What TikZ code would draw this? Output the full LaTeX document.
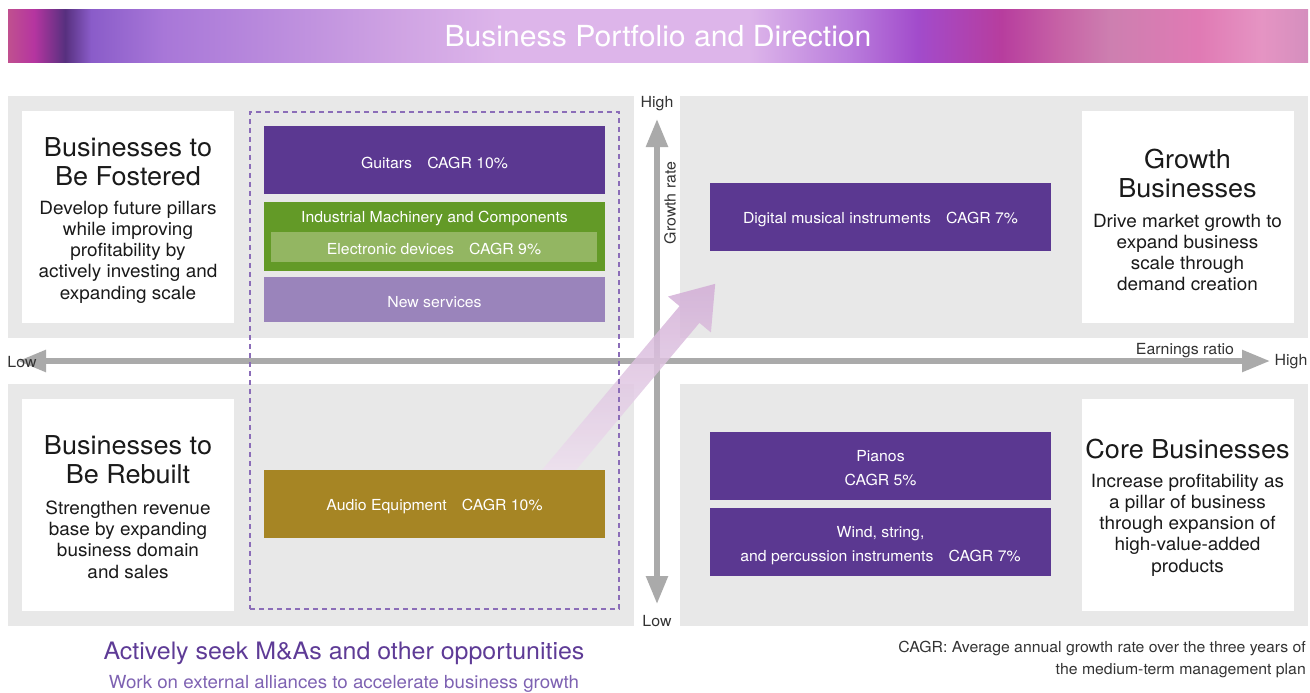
\documentclass[tikz,border=0pt]{standalone}
\usepackage{fontspec}
\setmainfont{TeX Gyre Heros}[FakeStretch=1.04]
\usetikzlibrary{arrows.meta}

\definecolor{quadgray}{HTML}{E8E8E8}
\definecolor{bizpurple}{HTML}{5B3891}
\definecolor{indgreen}{HTML}{639A27}
\definecolor{lightgreen}{HTML}{93B662}
\definecolor{svcpurple}{HTML}{9A84BB}
\definecolor{audiogold}{HTML}{A68524}
\definecolor{axisgray}{HTML}{AAAAAA}
\definecolor{dashpurple}{HTML}{8B6DB8}
\definecolor{textpurple}{HTML}{5E3B96}
\definecolor{subpurple}{HTML}{7E62B2}
\definecolor{inkdark}{HTML}{1A1A1A}
\definecolor{inkgray}{HTML}{333333}
\definecolor{arrowpink}{HTML}{D2ADD6}
\definecolor{arrowfade}{HTML}{F2E8F2}

\definecolor{hA}{HTML}{C0508F}
\definecolor{hB}{HTML}{B535A0}
\definecolor{hC}{HTML}{57307F}
\definecolor{hD}{HTML}{8A5CC9}
\definecolor{hE}{HTML}{A877D8}
\definecolor{hF}{HTML}{CFA3E3}
\definecolor{hG}{HTML}{DDB5EA}
\definecolor{hH}{HTML}{B97CDC}
\definecolor{hI}{HTML}{A24BCB}
\definecolor{hJ}{HTML}{B73D9E}
\definecolor{hK}{HTML}{C763A6}
\definecolor{hL}{HTML}{CD7FB0}
\definecolor{hM}{HTML}{E07AB4}
\definecolor{hN}{HTML}{E594C3}
\definecolor{hO}{HTML}{D58FBE}

\pgfdeclarehorizontalshading{headershade}{100bp}{color(0bp)=(hA); color(25bp)=(hA);
  color(26bp)=(hB); color(27.2bp)=(hC); color(28.2bp)=(hD); color(31bp)=(hE);
  color(40bp)=(hF); color(44bp)=(hG); color(53.5bp)=(hG); color(57.4bp)=(hH);
  color(60bp)=(hI); color(63.2bp)=(hJ); color(65.5bp)=(hK); color(67.4bp)=(hL);
  color(70.8bp)=(hM); color(73.2bp)=(hN); color(75bp)=(hO); color(100bp)=(hO)}

\begin{document}
\begin{tikzpicture}[x=1pt,y=-1pt,
    quad/.style={fill=quadgray},
    whitebox/.style={fill=white, minimum width=212pt, minimum height=212pt, inner sep=0},
    title/.style={font=\fontsize{26}{29}\selectfont, align=center, text=inkdark, inner sep=0},
    body/.style={font=\fontsize{18.2}{21.3}\selectfont, align=center, text=inkdark, inner sep=0},
    bizbox/.style={fill=bizpurple, text=white, minimum width=341pt, minimum height=68pt,
      inner sep=0, align=center, font=\fontsize{15.2}{24}\selectfont},
    bizlabel/.style={yshift=-2.5pt},
    axisline/.style={draw=axisgray, line width=5.5pt,
      arrows={Triangle[length=28pt,width=21pt]-Triangle[length=28pt,width=21pt]}},
    axislabel/.style={font=\fontsize{15.3}{17}\selectfont, text=inkgray, inner sep=0}
  ]
  \useasboundingbox (0,0) rectangle (1310,693);

  \node (header) [shade, shading=headershade, minimum width=1300pt, minimum height=53pt,
    inner sep=0, text=white, font=\fontsize{29}{32}\selectfont] at (658,36.5)
    {Business Portfolio and Direction};

  \fill[quad] (8,96) rectangle (634,338);
  \fill[quad] (680,96) rectangle (1308,338);
  \fill[quad] (8,384) rectangle (634,626);
  \fill[quad] (680,384) rectangle (1308,626);

  \node (fosterbox) [whitebox] at (128,217) {};
  \node (rebuildbox) [whitebox] at (128,505) {};
  \node (growthbox) [whitebox] at (1187.5,217) {};
  \node (corebox) [whitebox] at (1187.5,505) {};

  \node (fostertitle) [title] at (128,162) {Businesses to\\Be Fostered};
  \node (fosterbody) [body] at (128,252) {Develop future pillars\\while improving\\profitability by\\actively investing and\\expanding scale};
  \node (rebuildtitle) [title] at (128,460) {Businesses to\\Be Rebuilt};
  \node (rebuildbody) [body] at (128,539.5) {Strengthen revenue\\base by expanding\\business domain\\and sales};
  \node (growthtitle) [title] at (1187.5,173) {Growth\\Businesses};
  \node (growthbody) [body] at (1187.5,252.5) {Drive market growth to\\expand business\\scale through\\demand creation};
  \node (coretitle) [title] at (1187.5,449) {Core Businesses};
  \node (corebody) [body] at (1187.5,525) {Increase profitability as\\a pillar of business\\through expansion of\\high-value-added\\products};

  \coordinate (vlow) at (657,604);
  \coordinate (vhigh) at (657,119);
  \coordinate (hlow) at (18,361);
  \coordinate (hhigh) at (1270,361);
  \draw[axisline] (vlow) -- (vhigh);
  \draw[axisline] (hlow) -- (hhigh);

  \node (vhighlbl) [axislabel] at (657,103.5) {High};
  \node (vlowlbl) [axislabel] at (657,621) {Low};
  \node (hlowlbl) [axislabel] at (22,362) {Low};
  \node (hhighlbl) [axislabel] at (1291,362) {High};
  \node (earnlbl) [axislabel] at (1185,350.5) {Earnings ratio};
  \node (growlbl) [axislabel, rotate=90] at (670,203) {Growth rate};

  \begin{scope}[shift={(559,470)}, rotate=50]
    \shade[bottom color=arrowfade, top color=arrowpink, fill opacity=0.85]
      (-30,-13) -- (203,-13) -- (203,-28) -- (243,0) -- (203,28) -- (203,13) -- (-30,13) -- cycle;
  \end{scope}

  \node (mabox) [draw=dashpurple, line width=1.5pt, dash pattern=on 5pt off 4pt,
    minimum width=369pt, minimum height=497pt, inner sep=0] at (434.5,360.5) {};

  \node (guitars) [bizbox] at (434.5,160) {};
  \node (guitarslbl) [bizlabel, text=white, font=\fontsize{15.2}{24}\selectfont] at (guitars) {Guitars\quad CAGR 10\%};
  \node (indus) [bizbox, fill=indgreen, minimum height=69pt] at (434.5,236.5) {};
  \node (induslabel) [text=white, inner sep=0, font=\fontsize{15.2}{18}\selectfont] at (434.5,218) {Industrial Machinery and Components};
  \node (elec) [fill=lightgreen, minimum width=326pt, minimum height=30pt, inner sep=0] at (434,247) {};
  \node (eleclbl) [text=white, inner sep=0, font=\fontsize{15.2}{18}\selectfont] at (434,249) {Electronic devices\quad CAGR 9\%};
  \node (services) [bizbox, fill=svcpurple, minimum height=45pt] at (434.5,299.5) {};
  \node (serviceslbl) [bizlabel, text=white, font=\fontsize{15.2}{24}\selectfont] at (services) {New services};
  \node (audio) [bizbox, fill=audiogold] at (434.5,504) {};
  \node (audiolbl) [bizlabel, text=white, font=\fontsize{15.2}{24}\selectfont] at (audio) {Audio Equipment\quad CAGR 10\%};
  \node (digital) [bizbox] at (880.5,217) {};
  \node (digitallbl) [bizlabel, text=white, font=\fontsize{15.2}{24}\selectfont] at (digital) {Digital musical instruments\quad CAGR 7\%};
  \node (pianos) [bizbox] at (880.5,466) {};
  \node (pianoslbl) [bizlabel, text=white, align=center, font=\fontsize{15.2}{24}\selectfont] at (pianos) {Pianos\\CAGR 5\%};
  \node (winds) [bizbox] at (880.5,542) {};
  \node (windslbl) [bizlabel, text=white, align=center, font=\fontsize{15.2}{24}\selectfont, yshift=-1.5pt] at (winds) {Wind, string,\\and percussion instruments\quad CAGR 7\%};

  \node (matitle) [text=textpurple, inner sep=0, font=\fontsize{24}{26}\selectfont] at (344,653.5) {Actively seek M\&As and other opportunities};
  \node (masub) [text=subpurple, inner sep=0, font=\fontsize{18}{20}\selectfont] at (344,684) {Work on external alliances to accelerate business growth};
  \node (cagrnote) [anchor=east, align=right, text=inkgray, inner sep=0, font=\fontsize{15.2}{22}\selectfont] at (1306,659)
    {CAGR: Average annual growth rate over the three years of\\the medium-term management plan};
\end{tikzpicture}
\end{document}
